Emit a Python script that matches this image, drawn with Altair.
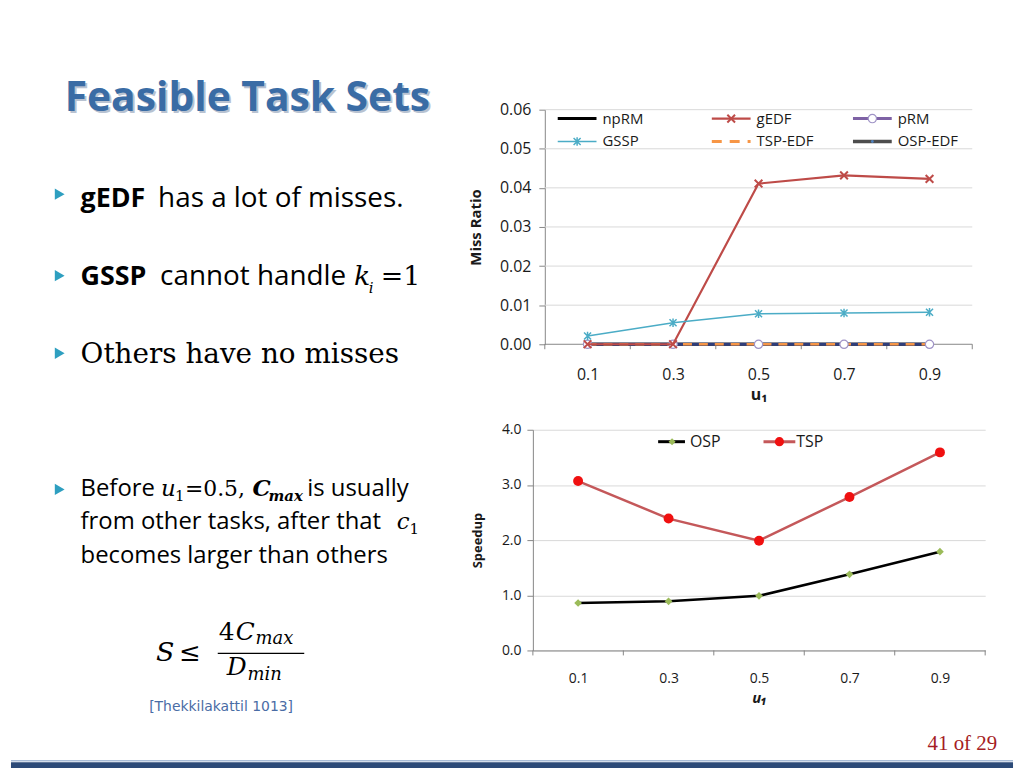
import altair as alt
import pandas as pd

# ---------------- data ----------------
u1 = [0.1, 0.3, 0.5, 0.7, 0.9]
x_bounds = [0.0, 0.2, 0.4, 0.6, 0.8, 1.0]

series_top = ["npRM", "gEDF", "pRM", "GSSP", "TSP-EDF", "OSP-EDF"]
miss_npRM = [0.0, 0.0, 0.0, 0.0, 0.0]
miss_gEDF = [0.0, 0.0, 0.0411, 0.0432, 0.0423]
miss_pRM = [0.0, 0.0, 0.0, 0.0, 0.0]
miss_GSSP = [0.0021, 0.0055, 0.0078, 0.0080, 0.0082]
miss_TSP_EDF = [0.0, 0.0, 0.0, 0.0, 0.0]
miss_OSP_EDF = [0.0, 0.0, 0.0, 0.0, 0.0]
miss_ticks = [0.00, 0.01, 0.02, 0.03, 0.04, 0.05, 0.06]

series_bot = ["OSP", "TSP"]
speed_OSP = [0.86, 0.89, 0.99, 1.38, 1.79]
speed_TSP = [3.07, 2.39, 1.99, 2.78, 3.59]
speed_ticks = [0.0, 1.0, 2.0, 3.0, 4.0]

miss_vals = [miss_npRM, miss_gEDF, miss_pRM, miss_GSSP, miss_TSP_EDF, miss_OSP_EDF]
df_miss = pd.DataFrame({
    "u": u1 * len(series_top),
    "series": [s for s in series_top for _ in u1],
    "v": [v for vals in miss_vals for v in vals],
})
df_speed = pd.DataFrame({
    "u": u1 * 2,
    "series": [s for s in series_bot for _ in u1],
    "v": speed_OSP + speed_TSP,
})

FONT = "Open Sans"
SERIF = "DejaVu Serif"
AXC = "#868686"
GRID = "#D9D9D9"
TXT = "#1a1a1a"
X_PATH = "M-1,-1L1,1M-1,1L1,-1"
AST_PATH = "M-1,-1L1,1M-1,1L1,-1M0,-1.2L0,1.2"

one = alt.Data(values=[{"k": 0}])


def T(text, x, y, size, font=FONT, weight="normal", style="normal", color="#000000",
      align="left", baseline="alphabetic", opacity=1.0):
    return alt.Chart(one).mark_text(
        fontSize=size, font=font, fontWeight=weight, fontStyle=style, color=color,
        align=align, baseline=baseline, opacity=opacity,
    ).encode(x=alt.value(x), y=alt.value(y), text=alt.value(text))


def R(x, x2, y, y2, color, width):
    return alt.Chart(one).mark_rule(color=color, strokeWidth=width).encode(
        x=alt.value(x), x2=alt.value(x2), y=alt.value(y), y2=alt.value(y2))


def P(x, y, shape, size, color, filled=True, fill=None, sw=1.0):
    kw = dict(shape=shape, size=size, strokeWidth=sw, opacity=1)
    if filled:
        kw.update(filled=True, color=color)
    else:
        kw.update(filled=False, stroke=color)
        if fill:
            kw.update(fill=fill, fillOpacity=1)
    return alt.Chart(one).mark_point(**kw).encode(x=alt.value(x), y=alt.value(y))


def mline(df, name, X, Y, color, width, dash=None):
    kw = dict(color=color, strokeWidth=width)
    if dash:
        kw["strokeDash"] = dash
    return alt.Chart(df).transform_filter(alt.datum.series == name).mark_line(**kw).encode(x=X, y=Y)


def mpoint(df, name, X, Y, shape, size, color, filled=True, fill=None, sw=1.0):
    kw = dict(shape=shape, size=size, strokeWidth=sw, opacity=1)
    if filled:
        kw.update(filled=True, color=color)
    else:
        kw.update(filled=False, stroke=color)
        if fill:
            kw.update(fill=fill, fillOpacity=1)
    return alt.Chart(df).transform_filter(alt.datum.series == name).mark_point(**kw).encode(x=X, y=Y)


# ---------------- top chart: Miss Ratio ----------------
TW, TH = 442, 236
OFF = 12
xs_top = alt.Scale(domain=[0, 1], range=[OFF, TW], nice=False, zero=False)
ys_top = alt.Scale(domain=[0, 0.06], nice=False)

X_top = alt.X("u:Q", scale=xs_top, axis=alt.Axis(
    values=u1, format=".1f", title="u₁", ticks=False, tickSize=0, domain=False, grid=False,
    labelPadding=22, labelFontSize=16, labelFont=FONT, labelColor=TXT,
    titleFont=FONT, titleFontSize=16, titleFontWeight="bold", titleColor=TXT, titlePadding=5))
Y_top = alt.Y("v:Q", scale=ys_top, axis=alt.Axis(
    values=miss_ticks, format=".2f", title="Miss Ratio", grid=False, offset=-OFF,
    domainColor=AXC, tickColor=AXC, tickSize=6, labelPadding=8,
    labelFontSize=16, labelFont=FONT, labelColor=TXT,
    titleFont=FONT, titleFontSize=15, titleFontWeight="bold", titleColor=TXT, titlePadding=16))

grid_top = alt.Chart(pd.DataFrame({"v": miss_ticks[1:]})).mark_rule(color=GRID, strokeWidth=1).encode(
    y=Y_top, x=alt.value(OFF), x2=alt.value(TW))
base_top = alt.Chart(pd.DataFrame({"v": [0.0]})).mark_rule(color=AXC, strokeWidth=1).encode(
    y=Y_top, x=alt.value(OFF), x2=alt.value(TW))
ticks_top = alt.Chart(pd.DataFrame({"u": x_bounds})).mark_rule(color=AXC, strokeWidth=1).encode(
    x=X_top, y=alt.value(TH), y2=alt.value(TH + 5))

C_NP = "#000000"
C_G = "#BE4B48"
C_P = "#7E62A5"
C_PM = "#9F93C6"
C_GS = "#4BACC6"
C_T = "#F79646"
C_O = "#4D4D4D"

top_layers = [
    grid_top, base_top, ticks_top,
    mline(df_miss, "npRM", X_top, Y_top, C_NP, 3),
    mline(df_miss, "OSP-EDF", X_top, Y_top, C_O, 3),
    mline(df_miss, "pRM", X_top, Y_top, "#2F3D7A", 3),
    mline(df_miss, "TSP-EDF", X_top, Y_top, C_T, 2.5, [9, 7]),
    mpoint(df_miss, "pRM", X_top, Y_top, "circle", 70, C_PM, filled=False, fill="#ffffff", sw=1.2),
    mline(df_miss, "gEDF", X_top, Y_top, C_G, 2.2),
    mpoint(df_miss, "gEDF", X_top, Y_top, X_PATH, 60, C_G, filled=False, sw=2),
    mline(df_miss, "GSSP", X_top, Y_top, C_GS, 1.5),
    mpoint(df_miss, "GSSP", X_top, Y_top, AST_PATH, 50, C_GS, filled=False, sw=1.5),
]

# legend of top chart (3 columns x 2 rows)
leg_cols = [25, 180, 322]
leg_rows = [9, 32]
LW = 39
LF = 15
top_layers += [R(leg_cols[0], leg_cols[0] + LW, leg_rows[0], leg_rows[0], C_NP, 3),
               T(series_top[0], leg_cols[0] + LW + 6, leg_rows[0], LF, baseline="middle", color=TXT)]
top_layers += [R(leg_cols[1], leg_cols[1] + LW, leg_rows[0], leg_rows[0], C_G, 2.2),
               P(leg_cols[1] + LW / 2, leg_rows[0], X_PATH, 60, C_G, filled=False, sw=2),
               T(series_top[1], leg_cols[1] + LW + 6, leg_rows[0], LF, baseline="middle", color=TXT)]
top_layers += [R(leg_cols[2], leg_cols[2] + LW, leg_rows[0], leg_rows[0], C_P, 3),
               P(leg_cols[2] + LW / 2, leg_rows[0], "circle", 70, C_PM, filled=False, fill="#ffffff", sw=1.2),
               T(series_top[2], leg_cols[2] + LW + 6, leg_rows[0], LF, baseline="middle", color=TXT)]
top_layers += [R(leg_cols[0], leg_cols[0] + LW, leg_rows[1], leg_rows[1], C_GS, 1.5),
               P(leg_cols[0] + LW / 2, leg_rows[1], AST_PATH, 50, C_GS, filled=False, sw=1.5),
               T(series_top[3], leg_cols[0] + LW + 6, leg_rows[1], LF, baseline="middle", color=TXT)]
top_layers += [alt.Chart(one).mark_rule(color=C_T, strokeWidth=3, strokeDash=[10, 8]).encode(
                   x=alt.value(leg_cols[1]), x2=alt.value(leg_cols[1] + LW), y=alt.value(leg_rows[1])),
               T(series_top[4], leg_cols[1] + LW + 6, leg_rows[1], LF, baseline="middle", color=TXT)]
top_layers += [R(leg_cols[2], leg_cols[2] + LW, leg_rows[1], leg_rows[1], C_O, 3.5),
               P(leg_cols[2] + LW / 2, leg_rows[1], "circle", 8, "#4F81BD"),
               T(series_top[5], leg_cols[2] + LW + 6, leg_rows[1], LF, baseline="middle", color=TXT)]

top = alt.layer(*top_layers).properties(width=TW, height=TH)

# ---------------- bottom chart: Speedup ----------------
BW, BH = 455, 222
xs_bot = alt.Scale(domain=[0, 1], nice=False, zero=False)
ys_bot = alt.Scale(domain=[0, 4], nice=False)
X_bot = alt.X("u:Q", scale=xs_bot, axis=alt.Axis(
    values=u1, format=".1f", title="u₁", ticks=False, tickSize=0, domain=True, domainColor=AXC,
    grid=False, labelPadding=21, labelFontSize=14, labelFont=FONT, labelColor=TXT,
    titleFont=FONT, titleFontSize=15, titleFontWeight="bold", titleFontStyle="italic",
    titleColor=TXT, titlePadding=5))
Y_bot = alt.Y("v:Q", scale=ys_bot, axis=alt.Axis(
    values=speed_ticks, format=".1f", title="Speedup", grid=True, gridColor=GRID,
    domainColor=AXC, tickColor=AXC, tickSize=6, labelPadding=6,
    labelFontSize=14, labelFont=FONT, labelColor=TXT,
    titleFont=FONT, titleFontSize=13, titleFontWeight="bold", titleColor=TXT, titlePadding=17))

ticks_bot = alt.Chart(pd.DataFrame({"u": x_bounds})).mark_rule(color=AXC, strokeWidth=1).encode(
    x=X_bot, y=alt.value(BH), y2=alt.value(BH + 5))

C_OSP_L = "#000000"
C_OSP_M = "#9BBB59"
C_TSP_L = "#C4585A"
C_TSP_M = "#F01010"

bot_layers = [
    ticks_bot,
    mline(df_speed, "OSP", X_bot, Y_bot, C_OSP_L, 2.5),
    mpoint(df_speed, "OSP", X_bot, Y_bot, "diamond", 60, C_OSP_M),
    mline(df_speed, "TSP", X_bot, Y_bot, C_TSP_L, 2.5),
    mpoint(df_speed, "TSP", X_bot, Y_bot, "circle", 100, C_TSP_M),
]
bl_y = 12
bot_layers += [R(126, 153, bl_y, bl_y, C_OSP_L, 3),
               P(140, bl_y, "diamond", 50, C_OSP_M),
               T(series_bot[0], 158, bl_y, 16, baseline="middle", color=TXT),
               R(232, 264, bl_y, bl_y, C_TSP_L, 3),
               P(248, bl_y, "circle", 85, C_TSP_M),
               T(series_bot[1], 265, bl_y, 16, baseline="middle", color=TXT)]

bottom = alt.layer(*bot_layers).properties(width=BW, height=BH)

# ---------------- left text panel ----------------
BUL = "#2E9FC0"
TITLE_C = "#3A6CA5"
MATH = "DejaVu Serif"
BSZ = 130
left_layers = [
    T("Feasible Task Sets", 56, 100, 41, weight="bold", color="#8A9BB3", opacity=0.6),
    T("Feasible Task Sets", 54, 98, 41, weight="bold", color=TITLE_C),
    # bullet 1
    P(49, 182, "triangle-right", BSZ, BUL),
    T("gEDF", 70, 195, 27, weight="bold"),
    T("has a lot of misses.", 148, 195, 28),
    # bullet 2
    P(49, 264, "triangle-right", BSZ, BUL),
    T("GSSP", 70, 273, 27, weight="bold"),
    T("cannot handle", 150, 273, 28),
    T("k", 345, 273, 27, font=SERIF, style="italic"),
    T("i", 360, 281, 15, font=SERIF, style="italic"),
    T("=1", 372, 273, 27, font=SERIF),
    # bullet 3
    P(49, 342, "triangle-right", BSZ, BUL),
    T("Others have no misses", 70, 352, 28, font=SERIF),
    # bullet 4
    P(49, 479, "triangle-right", BSZ, BUL),
    T("Before", 70, 486, 24),
    T("u", 151, 486, 23, font=SERIF, style="italic"),
    T("1", 165, 491, 15, font=SERIF),
    T("=0.5,", 175, 486, 22, font=SERIF),
    T("C", 243, 486, 23, font=SERIF, style="italic", weight="bold"),
    T("max", 259, 491, 15, font=SERIF, style="italic", weight="bold"),
    T("is usually", 298, 486, 24),
    T("from other tasks, after that", 70, 519, 24),
    T("c", 388, 519, 23, font=SERIF, style="italic"),
    T("1", 401, 524, 15, font=SERIF),
    T("becomes larger than others", 70, 553, 24),
    # formula
    T("S", 146, 652, 27, font=MATH, style="italic"),
    T("≤", 169, 652, 26, font=MATH),
    T("4", 209, 630, 25, font=MATH),
    T("C", 226, 630, 25, font=MATH, style="italic"),
    T("max", 246, 635, 18, font=MATH, style="italic"),
    R(208, 295, 644, 644, "#000000", 1.2),
    T("D", 217, 666, 25, font=MATH, style="italic"),
    T("min", 238, 671, 18, font=MATH, style="italic"),
    T("[Thekkilakattil 1013]", 139, 702, 14, font="DejaVu Sans", color="#4A6CA5"),
    # page footer
    T("41 of 29", 992, 741, 21, font="Liberation Serif", color="#A51C24", align="right"),
    R(0, 1008, 752, 752, "#A8BBD6", 1.5),
    R(0, 1008, 756.5, 756.5, "#2C4A78", 6),
]
left = alt.layer(*left_layers).properties(width=525, height=760)


def spacer(h):
    return alt.Chart(one).mark_point(opacity=0).encode(
        x=alt.value(0), y=alt.value(0)).properties(width=10, height=h)


right = alt.vconcat(spacer(97), top, spacer(86), bottom, spacing=0, bounds="flush")

chart = alt.hconcat(left, right, spacing=0, bounds="flush").properties(
    padding=0, background="white"
).configure_view(strokeWidth=0)

chart.save("out.html", embed_options={"renderer": "svg", "actions": False})
